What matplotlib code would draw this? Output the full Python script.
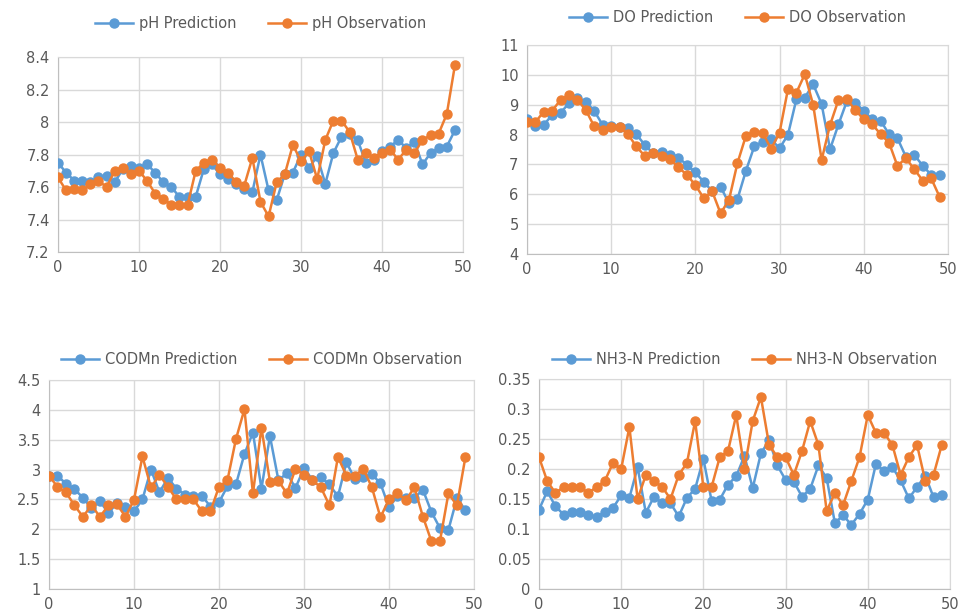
import matplotlib
matplotlib.use("Agg")
import matplotlib.pyplot as plt
import numpy as np

BLUE = "#5B9BD5"
ORANGE = "#ED7D31"
GRID = "#D9D9D9"
INK = "#595959"

t = np.arange(50)

ph_pred = [7.75, 7.69, 7.64, 7.64, 7.63, 7.66, 7.67, 7.63, 7.71, 7.73,
           7.72, 7.74, 7.69, 7.63, 7.60, 7.54, 7.54, 7.54, 7.71, 7.74,
           7.68, 7.65, 7.62, 7.59, 7.57, 7.80, 7.58, 7.52, 7.68, 7.69,
           7.80, 7.72, 7.79, 7.62, 7.81, 7.91, 7.93, 7.89, 7.75, 7.77,
           7.82, 7.85, 7.89, 7.84, 7.88, 7.74, 7.81, 7.84, 7.85, 7.95]
ph_obs = [7.66, 7.58, 7.59, 7.58, 7.62, 7.64, 7.60, 7.70, 7.72, 7.68,
          7.70, 7.64, 7.56, 7.53, 7.49, 7.49, 7.49, 7.70, 7.75, 7.77,
          7.72, 7.69, 7.63, 7.61, 7.78, 7.51, 7.42, 7.63, 7.68, 7.86,
          7.76, 7.82, 7.65, 7.89, 8.01, 8.01, 7.94, 7.77, 7.81, 7.78,
          7.81, 7.83, 7.77, 7.83, 7.81, 7.89, 7.92, 7.93, 8.05, 8.35]

do_pred = [8.51, 8.27, 8.32, 8.66, 8.73, 9.05, 9.21, 9.10, 8.79, 8.32,
           8.27, 8.24, 8.21, 8.01, 7.65, 7.37, 7.41, 7.32, 7.23, 6.98,
           6.73, 6.42, 6.10, 6.25, 5.70, 5.83, 6.78, 7.60, 7.76, 7.84,
           7.54, 7.99, 9.18, 9.24, 9.68, 9.02, 7.51, 8.34, 9.12, 9.07,
           8.79, 8.51, 8.47, 8.01, 7.88, 7.26, 7.32, 6.96, 6.65, 6.63]
do_obs = [8.41, 8.41, 8.77, 8.80, 9.16, 9.33, 9.16, 8.82, 8.27, 8.15,
          8.24, 8.24, 8.01, 7.60, 7.28, 7.37, 7.29, 7.18, 6.90, 6.65,
          6.31, 5.87, 6.10, 5.36, 5.81, 7.04, 7.95, 8.10, 8.06, 7.52,
          8.06, 9.52, 9.40, 10.02, 8.99, 7.15, 8.32, 9.16, 9.18, 8.82,
          8.51, 8.35, 8.01, 7.73, 6.95, 7.21, 6.84, 6.46, 6.54, 5.92]

cod_pred = [2.90, 2.90, 2.76, 2.67, 2.53, 2.35, 2.47, 2.27, 2.44, 2.38,
            2.30, 2.50, 3.00, 2.62, 2.86, 2.68, 2.58, 2.55, 2.56, 2.38,
            2.45, 2.72, 2.75, 3.26, 3.62, 2.68, 3.56, 2.82, 2.94, 2.69,
            3.02, 2.83, 2.87, 2.75, 2.55, 3.12, 2.84, 2.87, 2.92, 2.77,
            2.37, 2.55, 2.53, 2.53, 2.66, 2.29, 2.02, 1.99, 2.52, 2.32]
cod_obs = [2.90, 2.71, 2.62, 2.40, 2.21, 2.40, 2.21, 2.40, 2.42, 2.21,
           2.49, 3.22, 2.70, 2.91, 2.71, 2.50, 2.50, 2.50, 2.30, 2.30,
           2.71, 2.82, 3.51, 4.01, 2.60, 3.70, 2.80, 2.81, 2.60, 3.01,
           2.91, 2.82, 2.70, 2.40, 3.21, 2.90, 2.90, 3.01, 2.70, 2.20,
           2.50, 2.60, 2.49, 2.70, 2.21, 1.80, 1.80, 2.60, 2.40, 3.21]

nh3_pred = [0.132, 0.163, 0.138, 0.124, 0.128, 0.128, 0.124, 0.120, 0.128, 0.135,
            0.156, 0.152, 0.203, 0.127, 0.154, 0.143, 0.143, 0.121, 0.152, 0.167,
            0.217, 0.147, 0.149, 0.174, 0.188, 0.222, 0.168, 0.226, 0.248, 0.206,
            0.182, 0.179, 0.154, 0.167, 0.206, 0.185, 0.110, 0.123, 0.107, 0.125,
            0.149, 0.209, 0.196, 0.203, 0.181, 0.151, 0.170, 0.189, 0.153, 0.156]
nh3_obs = [0.22, 0.18, 0.16, 0.17, 0.17, 0.17, 0.16, 0.17, 0.18, 0.21,
           0.20, 0.27, 0.15, 0.19, 0.18, 0.17, 0.15, 0.19, 0.21, 0.28,
           0.17, 0.17, 0.22, 0.23, 0.29, 0.20, 0.28, 0.32, 0.24, 0.22,
           0.22, 0.19, 0.23, 0.28, 0.24, 0.13, 0.16, 0.14, 0.18, 0.22,
           0.29, 0.26, 0.26, 0.24, 0.19, 0.22, 0.24, 0.18, 0.19, 0.24]

panels = [
    # (rect, pred, obs, name, ylim, yticks, ylabels, legend y)
    ([0.0605, 0.588, 0.4228, 0.3186], ph_pred, ph_obs, "pH", (7.2, 8.4),
     [7.2, 7.4, 7.6, 7.8, 8.0, 8.2, 8.4], ["7.2", "7.4", "7.6", "7.8", "8", "8.2", "8.4"], 0.962),
    ([0.550, 0.585, 0.4395, 0.3415], do_pred, do_obs, "DO", (4, 11),
     list(range(4, 12)), [str(v) for v in range(4, 12)], 0.972),
    ([0.0511, 0.0376, 0.4436, 0.3415], cod_pred, cod_obs, "CODMn", (1, 4.5),
     [1, 1.5, 2, 2.5, 3, 3.5, 4, 4.5], ["1", "1.5", "2", "2.5", "3", "3.5", "4", "4.5"], 0.412),
    ([0.5626, 0.0376, 0.429, 0.343], nh3_pred, nh3_obs, "NH3-N", (0, 0.35),
     [0, 0.05, 0.1, 0.15, 0.2, 0.25, 0.3, 0.35],
     ["0", "0.05", "0.1", "0.15", "0.2", "0.25", "0.3", "0.35"], 0.412),
]

fig = plt.figure(figsize=(9.58, 6.12), dpi=100)
fig.patch.set_facecolor("white")

for rect, pred, obs, name, ylim, yt, ylab, ly in panels:
    ax = fig.add_axes(rect)
    ax.plot(t, pred, color=BLUE, lw=1.8, marker="o", ms=6.5, label=f"{name} Prediction", zorder=3)
    ax.plot(t, obs, color=ORANGE, lw=1.8, marker="o", ms=6.5, label=f"{name} Observation", zorder=4)
    ax.set_xlim(0, 50)
    ax.set_ylim(*ylim)
    ax.set_xticks(range(0, 51, 10))
    ax.set_yticks(yt)
    ax.set_yticklabels(ylab)
    ax.grid(True, color=GRID, lw=1.0)
    ax.set_axisbelow(True)
    for s in ax.spines.values():
        s.set_color(GRID)
    ax.spines["left"].set_color("#BFBFBF")
    ax.spines["bottom"].set_color("#BFBFBF")
    ax.tick_params(length=0, labelsize=10.5, colors=INK, pad=6)
    cx = rect[0] + rect[2] / 2
    fig.legend(*ax.get_legend_handles_labels(), loc="center", bbox_to_anchor=(cx, ly),
               ncol=2, frameon=False, fontsize=10.5, labelcolor=INK,
               handlelength=2.6, columnspacing=2.2, handletextpad=0.4)

fig.savefig("out.png", dpi=100)
